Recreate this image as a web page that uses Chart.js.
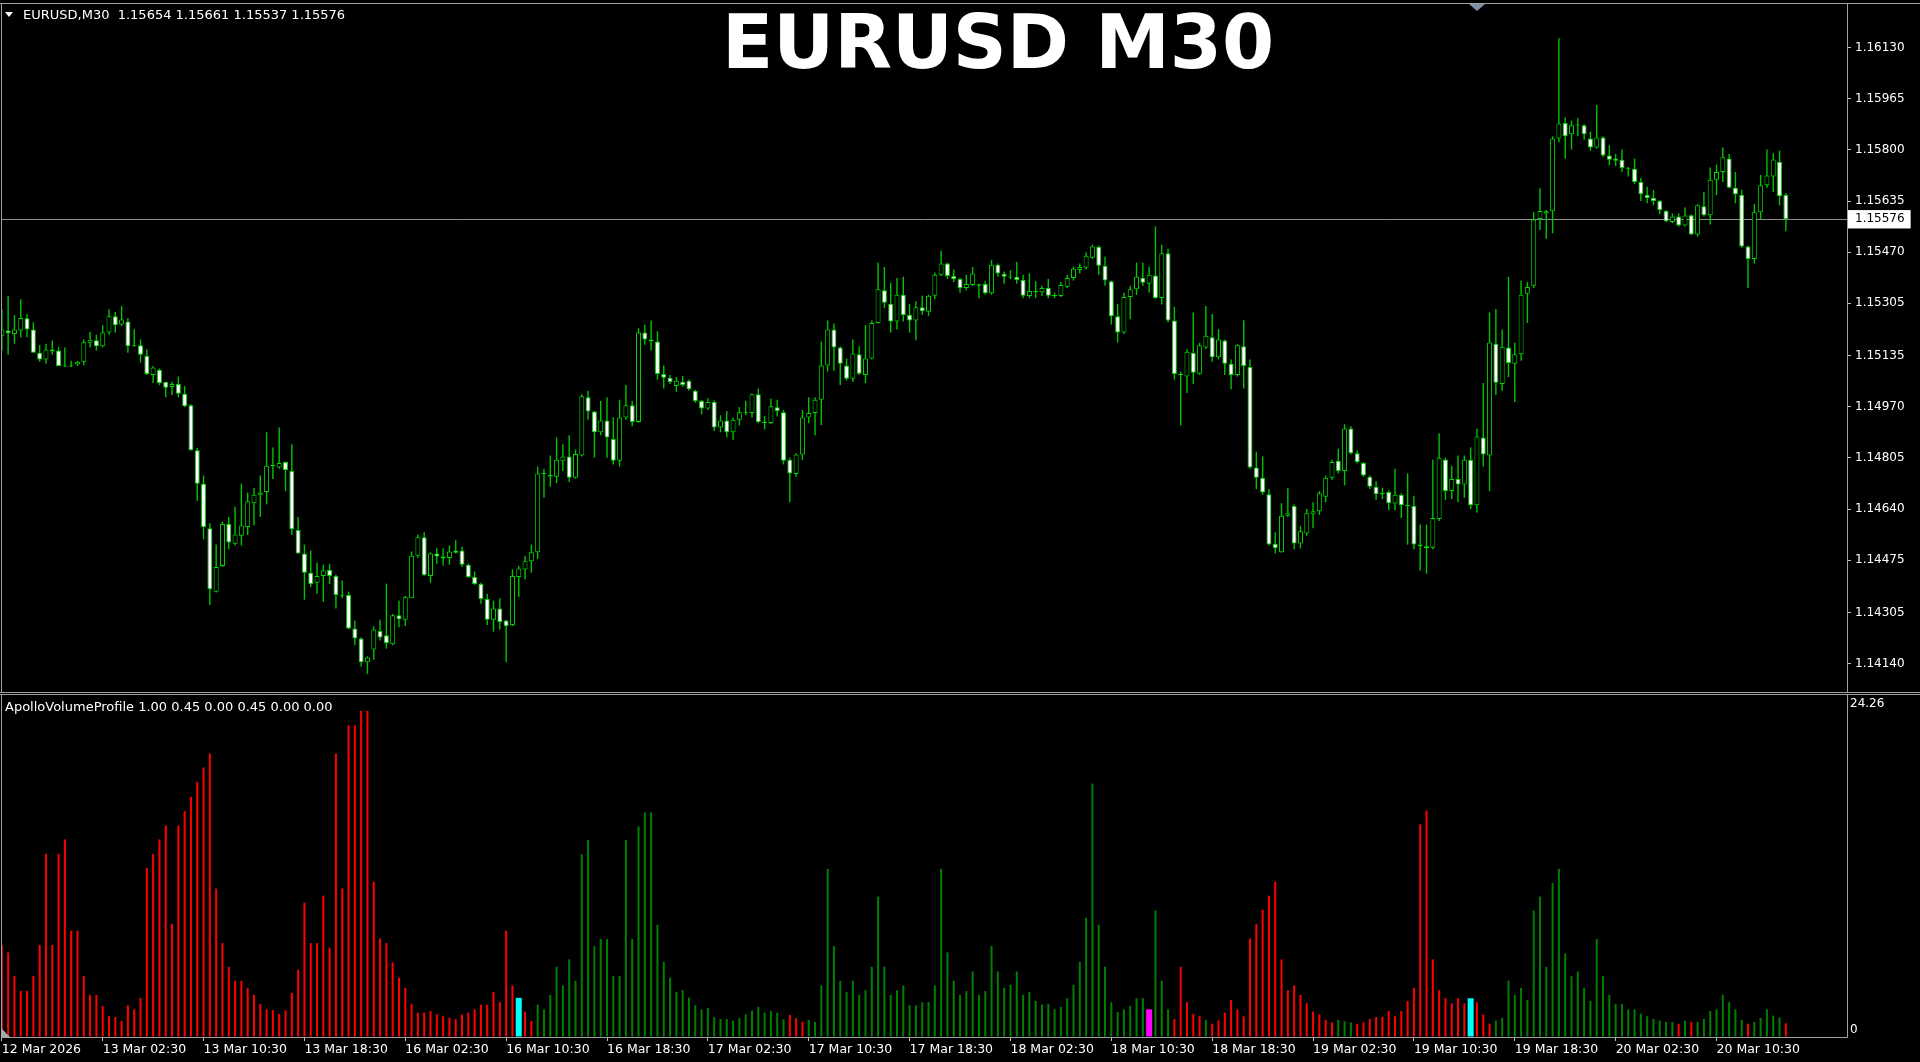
<!DOCTYPE html>
<html>
<head>
<meta charset="utf-8">
<script src="https://cdn.jsdelivr.net/npm/chart.js@4.4.1/dist/chart.umd.min.js"></script>
<style>
html,body{margin:0;padding:0;background:#000;width:1920px;height:1062px;overflow:hidden;}
#wrap{position:relative;width:1920px;height:1062px;background:#000;}
canvas{position:absolute;left:0;}
#cMain{top:0;}
#cVol{top:694px;}
.lbl{position:absolute;color:#fff;font-family:'DejaVu Sans';font-size:13px;line-height:15px;white-space:pre;}
#title{position:absolute;left:722px;top:5px;color:#fff;font-family:'DejaVu Sans';font-weight:bold;font-size:75px;line-height:75px;white-space:nowrap;}
#tri{position:absolute;left:5px;top:12px;width:0;height:0;border-left:4px solid transparent;border-right:4px solid transparent;border-top:5px solid #fff;}
#shift{position:absolute;left:1469px;top:4px;width:0;height:0;border-left:8px solid transparent;border-right:8px solid transparent;border-top:7px solid #8090a8;}
#corner{position:absolute;left:1px;top:1028px;width:0;height:0;border-bottom:9px solid #a8a8b0;border-right:9px solid transparent;}
</style>
</head>
<body>
<div id="wrap">
<canvas id="cMain" width="1920" height="694"></canvas>
<canvas id="cVol" width="1920" height="368"></canvas>
<div id="tri"></div>
<div class="lbl" id="hdr" style="left:23px;top:7px;"></div>
<div class="lbl" id="ind" style="left:5px;top:699px;"></div>
<div id="title"></div>
<div id="shift"></div>
<div id="corner"></div>
</div>
<script>
// ---------------- data ----------------
const symbol = 'EURUSD';
const timeframe = 'M30';
const indicatorName = 'ApolloVolumeProfile';
const indicatorParams = ['1.00','0.45','0.00','0.45','0.00','0.00'];

const openP = [
1.15200,1.15217,1.15205,1.15217,1.15256,1.15220,1.15145,1.15123,1.15155,1.15152,
1.15102,1.15100,1.15107,1.15116,1.15177,1.15185,1.15166,1.15210,1.15263,1.15236,
1.15246,1.15166,1.15169,1.15135,1.15073,1.15090,1.15050,1.15034,1.15044,1.15012,
1.14975,1.14830,1.14722,1.14578,1.14373,1.14456,1.14592,1.14528,1.14554,1.14582,
1.14659,1.14686,1.14695,1.14780,1.14774,1.14792,1.14763,1.14572,1.14496,1.14434,
1.14402,1.14424,1.14443,1.14424,1.14362,1.14362,1.14254,1.14222,1.14145,1.14186,
1.14246,1.14232,1.14203,1.14297,1.14282,1.14352,1.14489,1.14549,1.14424,1.14496,
1.14487,1.14482,1.14506,1.14506,1.14460,1.14420,1.14398,1.14349,1.14282,1.14319,
1.14280,1.14265,1.14420,1.14445,1.14471,1.14500,1.14755,1.14750,1.14744,1.14794,
1.14810,1.14741,1.14813,1.15001,1.14955,1.14888,1.14926,1.14866,1.14796,1.14936,
1.14975,1.14921,1.15210,1.15188,1.15181,1.15076,1.15064,1.15037,1.15051,1.15054,
1.15022,1.14989,1.14965,1.14986,1.14903,1.14926,1.14888,1.14928,1.14952,1.14950,
1.15011,1.14921,1.14918,1.14969,1.14953,1.14799,1.14753,1.14816,1.14936,1.14950,
1.14993,1.15104,1.15220,1.15162,1.15104,1.15061,1.15140,1.15073,1.15126,1.15241,
1.15347,1.15303,1.15246,1.15332,1.15267,1.15249,1.15292,1.15277,1.15329,1.15397,
1.15433,1.15393,1.15383,1.15354,1.15364,1.15361,1.15367,1.15337,1.15429,1.15400,
1.15390,1.15390,1.15380,1.15328,1.15344,1.15340,1.15354,1.15329,1.15328,1.15358,
1.15386,1.15412,1.15419,1.15452,1.15487,1.15426,1.15376,1.15263,1.15210,1.15325,
1.15350,1.15387,1.15368,1.15394,1.15322,1.15466,1.15249,1.15076,1.15068,1.15145,
1.15077,1.15162,1.15195,1.15130,1.15184,1.15109,1.15073,1.15166,1.15099,1.14774,
1.14741,1.14688,1.14528,1.14500,1.14618,1.14650,1.14529,1.14561,1.14623,1.14633,
1.14680,1.14741,1.14796,1.14763,1.14900,1.14820,1.14789,1.14744,1.14712,1.14688,
1.14695,1.14658,1.14686,1.14652,1.14650,1.14525,1.14520,1.14515,1.14608,1.14800,
1.14698,1.14737,1.14719,1.14799,1.14652,1.14871,1.14813,1.15174,1.15044,1.15162,
1.15109,1.15140,1.15335,1.15361,1.15577,1.15595,1.15602,1.15837,1.15887,1.15851,
1.15880,1.15880,1.15837,1.15808,1.15840,1.15782,1.15772,1.15768,1.15742,1.15739,
1.15696,1.15654,1.15645,1.15635,1.15603,1.15567,1.15585,1.15556,1.15589,1.15527,
1.15618,1.15589,1.15704,1.15729,1.15772,1.15678,1.15654,1.15488,1.15448,1.15599,
1.15686,1.15714,1.15762,1.15654];

const highP = [
1.15285,1.15328,1.15267,1.15318,1.15270,1.15243,1.15169,1.15174,1.15184,1.15164,
1.15162,1.15119,1.15119,1.15188,1.15213,1.15203,1.15234,1.15285,1.15277,1.15296,
1.15257,1.15221,1.15188,1.15155,1.15102,1.15094,1.15051,1.15051,1.15068,1.15037,
1.14979,1.14838,1.14748,1.14594,1.14525,1.14600,1.14614,1.14647,1.14722,1.14693,
1.14708,1.14748,1.14888,1.14839,1.14903,1.14794,1.14849,1.14614,1.14525,1.14506,
1.14467,1.14460,1.14463,1.14428,1.14409,1.14373,1.14280,1.14226,1.14164,1.14261,
1.14282,1.14399,1.14301,1.14344,1.14359,1.14503,1.14558,1.14565,1.14500,1.14513,
1.14513,1.14522,1.14539,1.14518,1.14464,1.14438,1.14402,1.14366,1.14344,1.14352,
1.14282,1.14445,1.14456,1.14489,1.14525,1.14777,1.14770,1.14813,1.14871,1.14849,
1.14878,1.14832,1.15011,1.15022,1.14957,1.14989,1.15001,1.14936,1.14993,1.15041,
1.14989,1.15224,1.15236,1.15249,1.15214,1.15104,1.15073,1.15066,1.15070,1.15058,
1.15025,1.14993,1.14998,1.14991,1.14943,1.14957,1.14936,1.14969,1.14989,1.15012,
1.15029,1.14940,1.14996,1.14993,1.14960,1.14806,1.14820,1.14960,1.15001,1.15001,
1.15181,1.15249,1.15239,1.15166,1.15126,1.15188,1.15166,1.15234,1.15249,1.15436,
1.15422,1.15371,1.15386,1.15390,1.15303,1.15311,1.15329,1.15332,1.15404,1.15474,
1.15436,1.15414,1.15387,1.15397,1.15422,1.15368,1.15376,1.15445,1.15433,1.15407,
1.15412,1.15438,1.15397,1.15401,1.15376,1.15361,1.15383,1.15339,1.15373,1.15397,
1.15423,1.15433,1.15469,1.15494,1.15491,1.15455,1.15378,1.15303,1.15339,1.15361,
1.15436,1.15436,1.15423,1.15553,1.15494,1.15481,1.15293,1.15084,1.15156,1.15275,
1.15177,1.15296,1.15270,1.15221,1.15188,1.15123,1.15174,1.15250,1.15123,1.14825,
1.14810,1.14705,1.14565,1.14659,1.14708,1.14655,1.14585,1.14640,1.14662,1.14698,
1.14748,1.14799,1.14835,1.14914,1.14907,1.14830,1.14792,1.14748,1.14730,1.14709,
1.14701,1.14770,1.14691,1.14755,1.14683,1.14590,1.14590,1.14799,1.14885,1.14806,
1.14780,1.14813,1.14813,1.14839,1.14900,1.15047,1.15275,1.15286,1.15220,1.15390,
1.15178,1.15378,1.15373,1.15599,1.15676,1.15606,1.15844,1.16161,1.15905,1.15895,
1.15902,1.15883,1.15859,1.15945,1.15844,1.15815,1.15787,1.15801,1.15745,1.15772,
1.15710,1.15681,1.15671,1.15638,1.15606,1.15595,1.15595,1.15614,1.15592,1.15624,
1.15664,1.15743,1.15753,1.15808,1.15787,1.15729,1.15671,1.15491,1.15625,1.15719,
1.15801,1.15789,1.15798,1.15661];

const lowP = [
1.15152,1.15138,1.15174,1.15195,1.15195,1.15145,1.15116,1.15109,1.15138,1.15102,
1.15099,1.15099,1.15102,1.15104,1.15162,1.15152,1.15162,1.15203,1.15210,1.15231,
1.15145,1.15164,1.15113,1.15073,1.15047,1.15040,1.15001,1.15008,1.15001,1.14969,
1.14828,1.14666,1.14542,1.14330,1.14370,1.14453,1.14510,1.14522,1.14522,1.14556,
1.14587,1.14614,1.14655,1.14737,1.14770,1.14698,1.14556,1.14496,1.14347,1.14388,
1.14366,1.14340,1.14398,1.14319,1.14352,1.14251,1.14200,1.14131,1.14107,1.14153,
1.14215,1.14189,1.14200,1.14258,1.14262,1.14352,1.14482,1.14424,1.14402,1.14463,
1.14457,1.14460,1.14496,1.14453,1.14417,1.14395,1.14334,1.14265,1.14244,1.14251,
1.14145,1.14262,1.14356,1.14412,1.14434,1.14479,1.14676,1.14712,1.14724,1.14763,
1.14727,1.14738,1.14810,1.14928,1.14806,1.14878,1.14806,1.14784,1.14777,1.14928,
1.14907,1.14918,1.15171,1.15152,1.15058,1.15029,1.15044,1.15019,1.15035,1.15022,
1.14983,1.14946,1.14960,1.14892,1.14888,1.14871,1.14864,1.14910,1.14943,1.14936,
1.14917,1.14897,1.14914,1.14939,1.14784,1.14662,1.14744,1.14799,1.14917,1.14878,
1.14911,1.15084,1.15087,1.15041,1.15055,1.15051,1.15073,1.15047,1.15123,1.15239,
1.15289,1.15210,1.15220,1.15246,1.15210,1.15185,1.15267,1.15264,1.15318,1.15393,
1.15383,1.15373,1.15339,1.15347,1.15361,1.15321,1.15332,1.15332,1.15390,1.15368,
1.15383,1.15368,1.15321,1.15321,1.15321,1.15328,1.15321,1.15321,1.15325,1.15354,
1.15378,1.15401,1.15414,1.15448,1.15397,1.15361,1.15236,1.15178,1.15205,1.15253,
1.15332,1.15361,1.15339,1.15318,1.15301,1.15243,1.15058,1.14910,1.15015,1.15044,
1.15073,1.15156,1.15116,1.15123,1.15073,1.15027,1.15068,1.15029,1.14770,1.14705,
1.14686,1.14522,1.14496,1.14499,1.14614,1.14510,1.14513,1.14554,1.14578,1.14621,
1.14662,1.14734,1.14755,1.14716,1.14816,1.14787,1.14744,1.14705,1.14669,1.14672,
1.14636,1.14636,1.14611,1.14525,1.14510,1.14441,1.14431,1.14510,1.14601,1.14669,
1.14672,1.14662,1.14676,1.14640,1.14629,1.14777,1.14698,1.15008,1.15022,1.15066,
1.14986,1.15119,1.15241,1.15354,1.15541,1.15513,1.15531,1.15825,1.15772,1.15801,
1.15844,1.15833,1.15797,1.15805,1.15776,1.15750,1.15748,1.15729,1.15714,1.15690,
1.15635,1.15628,1.15621,1.15592,1.15566,1.15563,1.15552,1.15553,1.15524,1.15520,
1.15585,1.15559,1.15654,1.15696,1.15676,1.15628,1.15484,1.15354,1.15433,1.15577,
1.15678,1.15664,1.15621,1.15537];

const closeP = [
1.15220,1.15208,1.15220,1.15257,1.15220,1.15145,1.15123,1.15155,1.15149,1.15102,
1.15100,1.15102,1.15116,1.15179,1.15187,1.15166,1.15210,1.15263,1.15234,1.15252,
1.15166,1.15168,1.15138,1.15076,1.15097,1.15047,1.15032,1.15044,1.15012,1.14972,
1.14830,1.14722,1.14582,1.14381,1.14453,1.14592,1.14532,1.14558,1.14587,1.14665,
1.14686,1.14693,1.14780,1.14779,1.14789,1.14766,1.14575,1.14496,1.14434,1.14398,
1.14424,1.14441,1.14424,1.14362,1.14360,1.14254,1.14222,1.14145,1.14160,1.14251,
1.14225,1.14207,1.14297,1.14284,1.14355,1.14489,1.14549,1.14427,1.14496,1.14487,
1.14480,1.14503,1.14499,1.14460,1.14420,1.14398,1.14349,1.14282,1.14319,1.14275,
1.14261,1.14424,1.14448,1.14471,1.14500,1.14755,1.14753,1.14745,1.14799,1.14810,
1.14741,1.14818,1.15004,1.14955,1.14888,1.14926,1.14871,1.14796,1.14936,1.14975,
1.14921,1.15210,1.15188,1.15181,1.15076,1.15064,1.15050,1.15054,1.15041,1.15027,
1.14989,1.14965,1.14986,1.14903,1.14926,1.14888,1.14928,1.14953,1.14949,1.15011,
1.14921,1.14918,1.14972,1.14957,1.14796,1.14755,1.14816,1.14936,1.14950,1.14993,
1.15104,1.15220,1.15162,1.15109,1.15061,1.15142,1.15077,1.15126,1.15241,1.15350,
1.15306,1.15246,1.15332,1.15267,1.15249,1.15292,1.15279,1.15329,1.15397,1.15433,
1.15393,1.15383,1.15354,1.15367,1.15401,1.15366,1.15337,1.15429,1.15401,1.15390,
1.15388,1.15380,1.15329,1.15344,1.15341,1.15354,1.15329,1.15328,1.15364,1.15386,
1.15416,1.15422,1.15458,1.15488,1.15426,1.15378,1.15263,1.15210,1.15325,1.15350,
1.15390,1.15371,1.15397,1.15322,1.15466,1.15249,1.15076,1.15073,1.15148,1.15080,
1.15169,1.15200,1.15130,1.15188,1.15109,1.15073,1.15169,1.15102,1.14774,1.14741,
1.14693,1.14525,1.14513,1.14618,1.14626,1.14529,1.14568,1.14626,1.14633,1.14691,
1.14741,1.14792,1.14763,1.14900,1.14820,1.14792,1.14748,1.14712,1.14688,1.14692,
1.14659,1.14686,1.14652,1.14650,1.14525,1.14520,1.14513,1.14611,1.14806,1.14698,
1.14737,1.14719,1.14799,1.14652,1.14874,1.14816,1.15178,1.15048,1.15164,1.15112,
1.15140,1.15332,1.15357,1.15575,1.15603,1.15602,1.15837,1.15885,1.15844,1.15880,
1.15879,1.15851,1.15808,1.15840,1.15782,1.15768,1.15765,1.15742,1.15739,1.15696,
1.15657,1.15645,1.15635,1.15606,1.15570,1.15585,1.15556,1.15588,1.15527,1.15621,
1.15589,1.15704,1.15729,1.15776,1.15678,1.15657,1.15488,1.15448,1.15599,1.15686,
1.15717,1.15769,1.15650,1.15576];

const volValues = [
6.84,6.29,4.55,3.43,3.43,4.55,6.84,13.62,6.84,13.62,
14.69,7.90,7.90,4.55,3.13,3.13,2.31,1.54,1.49,1.19,
2.36,2.06,2.91,12.58,13.62,14.69,15.73,8.40,15.73,16.80,
17.85,18.97,20.03,21.08,11.04,6.98,5.22,4.18,4.18,3.65,
3.13,2.46,2.06,1.99,1.72,1.99,3.28,5.00,9.99,6.98,
6.98,10.51,6.64,21.08,11.04,23.19,23.19,24.26,24.26,11.56,
7.33,6.98,5.54,4.42,3.65,2.44,1.81,1.81,1.94,1.69,
1.54,1.42,1.32,1.67,1.81,2.06,2.41,2.41,3.36,2.59,
7.90,3.83,2.91,1.89,1.19,2.41,2.06,3.13,5.22,3.83,
5.77,4.18,13.60,14.64,6.76,7.28,7.28,4.52,4.52,14.64,
7.28,15.66,16.70,16.70,8.35,5.59,4.42,3.36,3.50,2.93,
2.36,2.06,2.16,1.47,1.34,1.34,1.22,1.42,1.69,1.96,
2.24,1.81,1.94,1.81,1.32,1.64,1.39,1.12,1.27,1.12,
3.83,12.50,6.76,4.18,3.36,4.18,3.13,3.48,5.22,10.44,
5.22,3.13,3.48,3.83,2.36,2.36,2.59,2.59,3.83,12.50,
6.29,4.18,3.13,3.41,4.87,3.13,3.41,6.76,4.87,3.65,
3.88,4.87,3.13,3.36,2.68,2.41,2.46,2.06,2.24,2.88,
3.88,5.59,8.87,18.84,8.35,5.22,2.59,1.86,2.06,2.31,
2.88,2.88,2.06,9.40,4.18,2.06,1.34,5.22,2.59,1.72,
1.54,1.27,0.99,1.24,1.81,2.76,2.06,1.54,7.33,8.40,
9.47,10.51,11.56,5.77,3.48,3.83,3.13,2.51,1.89,1.67,
1.27,1.09,1.27,1.17,1.09,0.99,1.09,1.34,1.49,1.49,
1.94,1.54,1.94,2.68,3.65,15.81,16.85,5.77,3.48,2.88,
2.51,2.88,2.51,2.88,2.59,1.67,0.99,1.22,1.42,4.18,
3.13,3.65,2.76,9.40,10.44,5.22,11.46,12.50,6.21,4.52,
4.87,3.65,2.68,7.28,4.52,3.13,2.46,2.46,2.06,2.06,
1.74,1.54,1.34,1.22,1.12,1.12,0.99,1.22,1.12,1.12,
1.34,1.94,2.06,3.13,2.59,2.06,1.27,0.99,1.12,1.42,
2.06,1.59,1.47,1.02];

// indicator state per bar: R = falling, G = rising, C = cyan signal, M = magenta signal
const volState = [
'RRRRRRRRRR','RRRRRRRRRR','RRRRRRRRRR','RRRRRRRRRR','RRRRRRRRRR','RRRRRRRRRR',
'RRRRRRRRRR','RRRRRRRRRR','RRCRRGGGGG','GGGGGGGGGG','GGGGGGGGGG','GGGGGGGGGG',
'GGGGGRRRGG','GGGGGGGGGG','GGGGGGGGGG','GGGGGGGGGG','GGGGGGGGGG','GGGGGGGGGG',
'GGMGGGRRRR','RGRRRRRRRR','RRRRRRRRRR','RRGGGRRRRR','RRRRRRRRRR','RRRCRRRGGG',
'GGGGGGGGGG','GGGGGGGGGG','GGGGGGRGRG','GGGGGGGRGG','GGGR'].join('').split('');

const timeTickIndex = [0,16,32,48,64,80,96,112,128,144,160,176,192,208,224,240,256,272];
const timeTickText = ['12 Mar 2026','13 Mar 02:30','13 Mar 10:30','13 Mar 18:30','16 Mar 02:30',
  '16 Mar 10:30','16 Mar 18:30','17 Mar 02:30','17 Mar 10:30','17 Mar 18:30','18 Mar 02:30',
  '18 Mar 10:30','18 Mar 18:30','19 Mar 02:30','19 Mar 10:30','19 Mar 18:30','20 Mar 02:30','20 Mar 10:30'];
const priceTicks = [1.16130,1.15965,1.15800,1.15635,1.15470,1.15305,1.15135,1.14970,1.14805,1.14640,1.14475,1.14305,1.14140];
const volTicks = [0, 24.26];
const volTickText = ['0', '24.26'];

// ---------------- text ----------------
const N = closeP.length;
const lastClose = closeP[N - 1];
document.getElementById('hdr').textContent =
  symbol + ',' + timeframe + '  ' + openP[N-1].toFixed(5) + ' ' + highP[N-1].toFixed(5) + ' ' +
  lowP[N-1].toFixed(5) + ' ' + lastClose.toFixed(5);
document.getElementById('ind').textContent = indicatorName + ' ' + indicatorParams.join(' ');
document.getElementById('title').textContent = symbol + ' ' + timeframe;

// ---------------- chart setup ----------------
Chart.defaults.font.family = "'DejaVu Sans'";
Chart.defaults.color = '#ffffff';

const GREEN = '#00d800';
const WICK = '#00c400';
const FRAME = '#a0a0a0';
const X_MIN = 0.027, X_MAX = 292.70;

const framePlugin = {
  id: 'frame',
  afterDraw(chart, args, opts) {
    const {ctx, chartArea: a, width} = chart;
    const t = Math.round(a.top) - 0.5, b = Math.round(a.bottom) + 0.5;
    const l = Math.round(a.left) - 0.5, r = Math.round(a.right) + 0.5;
    ctx.save();
    ctx.strokeStyle = FRAME;
    ctx.lineWidth = 1;
    ctx.beginPath();
    ctx.moveTo(0, t); ctx.lineTo(width, t);
    if (opts.bottomFull) { ctx.moveTo(0, b); ctx.lineTo(width, b); }
    else { ctx.moveTo(l, b); ctx.lineTo(r, b); }
    ctx.moveTo(l, t); ctx.lineTo(l, b);
    ctx.moveTo(r, t); ctx.lineTo(r, b);
    ctx.stroke();
    ctx.restore();
  }
};

const wickData = [], bodyData = [], bodyFill = [];
for (let i = 0; i < N; i++) {
  wickData.push({x: i, y: [lowP[i], highP[i]]});
  bodyData.push({x: i, y: [Math.min(openP[i], closeP[i]), Math.max(openP[i], closeP[i])]});
  bodyFill.push(closeP[i] < openP[i] ? '#ffffff' : '#000000');
}

const allPriceTicks = priceTicks.concat([lastClose]).sort((a, b) => b - a);

new Chart(document.getElementById('cMain'), {
  type: 'bar',
  data: {
    datasets: [
      { label: 'body', data: bodyData, backgroundColor: bodyFill, borderColor: GREEN, borderWidth: 1,
        borderSkipped: false, barThickness: 5, minBarLength: 1, grouped: false, inflateAmount: 0, order: 0 },
      { label: 'wick', data: wickData, backgroundColor: WICK, borderWidth: 0,
        barThickness: 1.4, grouped: false, inflateAmount: 0, order: 1 }
    ]
  },
  options: {
    responsive: false, animation: false, devicePixelRatio: 1, events: [],
    layout: { padding: { left: 2, top: 4, bottom: 2, right: 0 } },
    plugins: { legend: { display: false }, tooltip: { enabled: false }, frame: { bottomFull: true } },
    scales: {
      x: { type: 'linear', min: X_MIN, max: X_MAX, offset: false, display: false, bounds: 'data', grid: { offset: false } },
      y: {
        type: 'linear', position: 'right', min: 1.140489, max: 1.162714, bounds: 'data', beginAtZero: false,
        afterBuildTicks: s => { s.ticks = allPriceTicks.map(v => ({ value: v })); },
        afterFit: s => { s.width = 73; s.paddingTop = 0; s.paddingBottom = 0; },
        border: { display: false },
        grid: {
          drawOnChartArea: true, drawTicks: true, tickLength: 4, lineWidth: 1,
          color: c => (c.tick && c.tick.value === lastClose) ? '#8c8c8c' : 'rgba(0,0,0,0)',
          tickColor: '#c0c0c0'
        },
        ticks: {
          autoSkip: false, padding: 4, font: { size: 12 },
          color: c => (c.tick && c.tick.value === lastClose) ? '#000000' : '#ffffff',
          showLabelBackdrop: c => !!(c.tick && c.tick.value === lastClose),
          backdropColor: '#ffffff',
          backdropPadding: { top: 2, bottom: 2, left: 7, right: 6 },
          callback: v => Number(v).toFixed(5)
        }
      }
    }
  },
  plugins: [framePlugin]
});

const thinData = [], thinColor = [], wideData = [], wideColor = [];
for (let i = 0; i < N; i++) {
  const s = volState[i];
  const wide = (s === 'C' || s === 'M');
  thinData.push({x: i, y: wide ? null : volValues[i]});
  thinColor.push(s === 'R' ? '#ff0000' : '#008000');
  wideData.push({x: i, y: wide ? volValues[i] : null});
  wideColor.push(s === 'C' ? '#00ffff' : '#ff00ff');
}

new Chart(document.getElementById('cVol'), {
  type: 'bar',
  data: {
    datasets: [
      { label: 'signal', data: wideData, backgroundColor: wideColor, borderWidth: 0, barThickness: 6, grouped: false, inflateAmount: 0 },
      { label: 'volume', data: thinData, backgroundColor: thinColor, borderWidth: 0, barThickness: 2, grouped: false, inflateAmount: 0 }
    ]
  },
  options: {
    responsive: false, animation: false, devicePixelRatio: 1, events: [],
    layout: { padding: { left: 2, top: 1, bottom: 0, right: 0 } },
    plugins: { legend: { display: false }, tooltip: { enabled: false }, frame: { bottomFull: false } },
    scales: {
      x: {
        type: 'linear', min: X_MIN, max: X_MAX, offset: false, bounds: 'data', position: 'bottom',
        afterBuildTicks: s => { s.ticks = timeTickIndex.map(v => ({ value: v })); },
        afterFit: s => { s.height = 25; s.paddingLeft = 0; s.paddingRight = 0; },
        border: { display: false },
        grid: { offset: false, drawOnChartArea: false, drawTicks: true, tickLength: 4, tickColor: '#c0c0c0', color: '#c0c0c0' },
        ticks: {
          autoSkip: false, maxRotation: 0, minRotation: 0, align: 'start', padding: 1,
          color: '#ffffff', font: { size: 12.5 },
          callback: v => timeTickText[timeTickIndex.indexOf(v)]
        }
      },
      y: {
        type: 'linear', position: 'right', min: 0, max: 25.43, bounds: 'data',
        afterBuildTicks: s => { s.ticks = volTicks.map(v => ({ value: v })); },
        afterFit: s => { s.width = 73; s.paddingTop = 0; s.paddingBottom = 0; },
        border: { display: false },
        grid: { drawOnChartArea: false, drawTicks: true, tickLength: 0, tickColor: 'rgba(0,0,0,0)' },
        ticks: {
          autoSkip: false, padding: 3, labelOffset: -7, color: '#ffffff', font: { size: 12 },
          callback: v => volTickText[volTicks.indexOf(v)]
        }
      }
    }
  },
  plugins: [framePlugin]
});
</script>
</body>
</html>
